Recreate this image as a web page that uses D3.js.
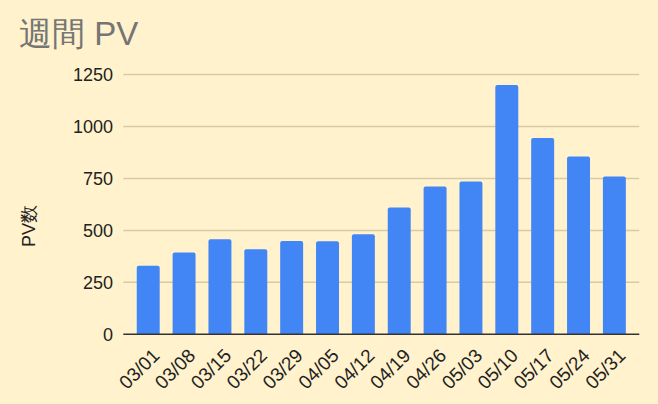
<!DOCTYPE html>
<html>
<head>
<meta charset="utf-8">
<script src="https://cdn.jsdelivr.net/npm/d3@7"></script>
<style>
  body { margin: 0; background: #fff2cc; }
  svg { display: block; font-family: "Liberation Sans", Arial, sans-serif; }
</style>
</head>
<body>
<div id="chart"></div>
<script>
const weeks = ['03/01','03/08','03/15','03/22','03/29','04/05','04/12','04/19','04/26','05/03','05/10','05/17','05/24','05/31']
const pv = [330, 393, 457, 409, 449, 448, 481, 610, 711, 735, 1199, 944, 855, 759]
const yTicks = [0, 250, 500, 750, 1000, 1250]

const W = 658, H = 404
const svg = d3.select('#chart').append('svg').attr('width', W).attr('height', H)
svg.append('rect').attr('width', W).attr('height', H).attr('fill', '#fff2cc')

const x = d3.scaleBand().domain(weeks).range([123.3, 639.3]).paddingInner(0.36).paddingOuter(0.375)
const y = d3.scaleLinear().domain([0, 1250]).range([334.3, 74.5])

// title
svg.append('text').attr('x', 19).attr('y', 45).attr('font-size', 33).attr('fill', '#757575').text('週間 PV')

// grid
svg.append('g').selectAll('line').data(yTicks.filter(d => d > 0)).enter().append('line')
  .attr('x1', 123.3).attr('x2', 639.3)
  .attr('y1', d => y(d)).attr('y2', d => y(d))
  .attr('stroke', '#d6cba9').attr('stroke-width', 1.5)

// y tick labels
svg.append('g').selectAll('text').data(yTicks).enter().append('text')
  .attr('x', 113).attr('y', d => y(d)).attr('dy', '0.36em')
  .attr('text-anchor', 'end').attr('font-size', 18).attr('fill', '#222')
  .text(d => d)

// y axis title
svg.append('text').attr('transform', 'translate(35,226) rotate(-90)')
  .attr('text-anchor', 'middle').attr('font-size', 18).attr('fill', '#222').text('PV数')

// bars
svg.append('g').selectAll('path').data(pv).enter().append('path')
  .attr('fill', '#4285f4')
  .attr('d', (d, i) => {
    const x0 = x(weeks[i]), w = x.bandwidth(), y0 = y(d), y1 = y(0), r = 2
    return `M${x0},${y1}V${y0 + r}Q${x0},${y0} ${x0 + r},${y0}H${x0 + w - r}Q${x0 + w},${y0} ${x0 + w},${y0 + r}V${y1}Z`
  })

// baseline
svg.append('line').attr('x1', 123.3).attr('x2', 639.3).attr('y1', y(0)).attr('y2', y(0))
  .attr('stroke', '#333').attr('stroke-width', 1.5)

// x labels
svg.append('g').selectAll('text').data(weeks).enter().append('text')
  .attr('transform', d => `translate(${x(d) + x.bandwidth() / 2 + 3},${y(0) + 13}) rotate(-45)`)
  .attr('text-anchor', 'end').attr('dy', '0.7em').attr('font-size', 19).attr('fill', '#222')
  .text(d => d)
</script>
</body>
</html>
